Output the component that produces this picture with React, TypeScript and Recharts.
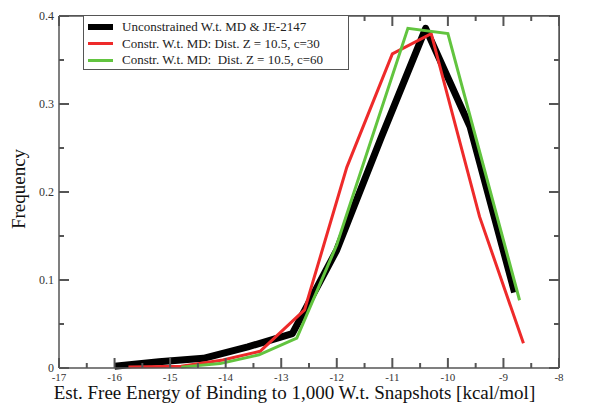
import { LineChart, Line, XAxis, YAxis, ReferenceLine } from 'recharts';

// bin centres / frequencies
const blackX = [-16, -15.2, -14.4, -13.6, -12.8, -12.0, -11.2, -10.4, -9.6, -8.8];
const blackY = [0.002, 0.007, 0.011, 0.024, 0.039, 0.134, 0.262, 0.386, 0.274, 0.086];

const redX = [-15.75, -14.8, -14.05, -13.38, -12.58, -11.82, -11.0, -10.3, -9.43, -8.64];
const redY = [0.001, 0.002, 0.009, 0.019, 0.066, 0.228, 0.357, 0.38, 0.172, 0.028];

const greenX = [-14.8, -14.1, -13.4, -12.72, -12.0, -10.72, -10.0, -8.71];
const greenY = [0.001, 0.005, 0.015, 0.034, 0.14, 0.386, 0.38, 0.077];

const xTicks = [-17, -16.5, -16, -15.5, -15, -14.5, -14, -13.5, -13, -12.5, -12, -11.5, -11, -10.5, -10, -9.5, -9, -8.5, -8];
const yTicks = [0, 0.05, 0.1, 0.15, 0.2, 0.25, 0.3, 0.35, 0.4];

const seriesNames = [
  'Unconstrained W.t. MD & JE-2147',
  'Constr. W.t. MD: Dist. Z = 10.5, c=30',
  'Constr. W.t. MD:\u00a0 Dist. Z = 10.5, c=60',
];
const seriesColors = ['#000000', '#ee2a2a', '#62c43f'];
const seriesWidths = [7, 3, 3];

const toPoints = (xs: number[], ys: number[]) => xs.map((x, i) => ({ x, y: ys[i] }));
const blackData = toPoints(blackX, blackY);
const redData = toPoints(redX, redY);
const greenData = toPoints(greenX, greenY);

const FRAME = '#555555';
const LABEL = '#333';
const FONT = '"Liberation Serif", "Times New Roman", serif';
const PLOT_W = 500;
const PLOT_H = 352;

const isMajorX = (v: number) => Number.isInteger(v);
const isMajorY = (v: number) => Math.round(v * 100) % 10 === 0;

// bottom tick also mirrors an inward tick onto the top edge of the frame
function BottomTick(props: any) {
  const { x, y, payload } = props;
  const len = isMajorX(payload.value) ? 10 : 5;
  return (
    <g>
      <line x1={x} x2={x} y1={y} y2={y - len} stroke={FRAME} strokeWidth={2} />
      <line x1={x} x2={x} y1={y - PLOT_H} y2={y - PLOT_H + len} stroke={FRAME} strokeWidth={2} />
      {len === 10 && (
        <text x={x} y={y + 13} textAnchor="middle" fill={LABEL} fontFamily={FONT} fontSize={11}>
          {payload.value}
        </text>
      )}
    </g>
  );
}

// left tick also mirrors an inward tick onto the right edge
function LeftTick(props: any) {
  const { x, y, payload } = props;
  const len = isMajorY(payload.value) ? 10 : 5;
  return (
    <g>
      <line x1={x} x2={x + len} y1={y} y2={y} stroke={FRAME} strokeWidth={2} />
      <line x1={x + PLOT_W} x2={x + PLOT_W - len} y1={y} y2={y} stroke={FRAME} strokeWidth={2} />
      {len === 10 && (
        <text x={x - 5} y={y + 4} textAnchor="end" fill={LABEL} fontFamily={FONT} fontSize={12}>
          {payload.value}
        </text>
      )}
    </g>
  );
}

function LegendBox() {
  return (
    <div
      style={{
        position: 'absolute',
        left: 83,
        top: 15,
        width: 256,
        height: 48,
        border: `1.5px solid ${FRAME}`,
        background: '#fff',
        padding: '3px 4px 2px 4px',
        fontFamily: FONT,
        fontSize: 13,
        color: '#222',
        lineHeight: '16.5px',
      }}
    >
      {seriesNames.map((name, i) => (
        <div key={i} style={{ display: 'flex', alignItems: 'center', whiteSpace: 'pre' }}>
          <span
            style={{
              display: 'inline-block',
              width: 25,
              height: seriesWidths[i] === 7 ? 6 : 3,
              background: seriesColors[i],
              marginRight: 9,
            }}
          />
          {name}
        </div>
      ))}
    </div>
  );
}

export default function App() {
  return (
    <div style={{ position: 'absolute', left: 0, top: 0, width: 589, height: 409, fontFamily: FONT }}>
      <LineChart width={589} height={409} margin={{ top: 16, right: 30, bottom: 11, left: 0 }}>
        <XAxis
          dataKey="x"
          type="number"
          domain={[-17, -8]}
          ticks={xTicks}
          interval={0}
          height={30}
          tickSize={0}
          tickMargin={0}
          tickLine={false}
          tick={<BottomTick />}
          axisLine={{ stroke: FRAME, strokeWidth: 1.5 }}
        />
        <YAxis
          type="number"
          domain={[0, 0.4]}
          ticks={yTicks}
          interval={0}
          width={59}
          tickSize={0}
          tickMargin={0}
          tickLine={false}
          tick={<LeftTick />}
          axisLine={{ stroke: FRAME, strokeWidth: 1.5 }}
        />
        <ReferenceLine y={0.4} stroke={FRAME} strokeWidth={1.5} />
        <ReferenceLine x={-8} stroke={FRAME} strokeWidth={1.5} />
        <Line
          data={blackData}
          dataKey="y"
          name={seriesNames[0]}
          stroke={seriesColors[0]}
          strokeWidth={seriesWidths[0]}
          strokeLinejoin="round"
          dot={false}
          isAnimationActive={false}
        />
        <Line
          data={redData}
          dataKey="y"
          name={seriesNames[1]}
          stroke={seriesColors[1]}
          strokeWidth={seriesWidths[1]}
          dot={false}
          isAnimationActive={false}
        />
        <Line
          data={greenData}
          dataKey="y"
          name={seriesNames[2]}
          stroke={seriesColors[2]}
          strokeWidth={seriesWidths[2]}
          dot={false}
          isAnimationActive={false}
        />
      </LineChart>
      {/* plot frame, top and right edges */}
      <div
        style={{
          position: 'absolute',
          left: 59,
          top: 15.25,
          width: 500.75,
          height: 352,
          boxSizing: 'border-box',
          borderTop: `1.5px solid ${FRAME}`,
          borderRight: `1.5px solid ${FRAME}`,
          pointerEvents: 'none',
        }}
      />
      <LegendBox />
      <div
        style={{
          position: 'absolute',
          left: 0,
          width: 589,
          top: 382,
          textAlign: 'center',
          fontSize: 19,
          color: '#111',
          whiteSpace: 'nowrap',
        }}
      >
        Est. Free Energy of Binding to 1,000 W.t. Snapshots [kcal/mol]
      </div>
      <div
        style={{
          position: 'absolute',
          left: 19,
          top: 189,
          transform: 'translate(-50%, -50%) rotate(-90deg)',
          fontSize: 19,
          color: '#111',
          whiteSpace: 'nowrap',
        }}
      >
        Frequency
      </div>
    </div>
  );
}
